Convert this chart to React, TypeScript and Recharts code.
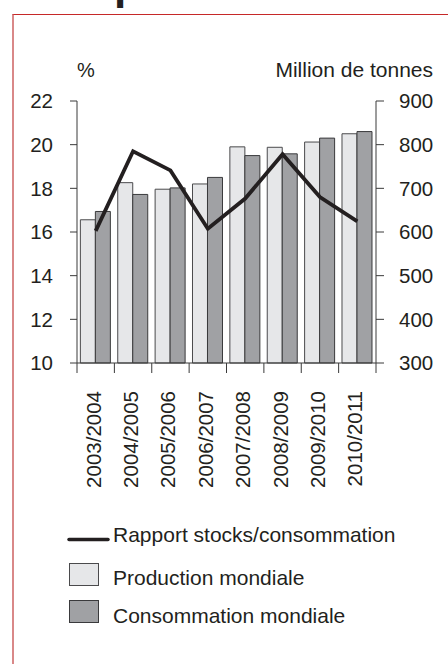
import React from 'react';
import { ComposedChart, Bar, Line, XAxis, YAxis } from 'recharts';

const years = ['2003/2004', '2004/2005', '2005/2006', '2006/2007', '2007/2008', '2008/2009', '2009/2010', '2010/2011'];
const production = [628, 713, 698, 710, 795, 794, 806, 825];
const consommation = [647, 686, 701, 725, 775, 779, 815, 830];
const rapport = [16.05, 19.7, 18.82, 16.15, 17.53, 19.56, 17.6, 16.49];
const leftTicks = [10, 12, 14, 16, 18, 20, 22];
const rightTicks = [300, 400, 500, 600, 700, 800, 900];

const data = years.map((year, i) => ({
  year,
  production: production[i],
  consommation: consommation[i],
  rapport: rapport[i],
}));

const FONT = '"Liberation Sans", Arial, sans-serif';
const INK = '#231f20';
const AXIS = '#3a3a3a';
const LIGHT = '#e6e7e9';
const DARK = '#a0a1a4';

const W = 448;
const H = 664;
const LEFT_W = 77;
const RIGHT_W = 72;
const BAND = (W - LEFT_W - RIGHT_W) / years.length;

const YearTick = (props: any) => {
  const { x, y, payload, index } = props;
  const half = payload && payload.offset ? payload.offset : BAND / 2;
  const tx = x + 5;
  const ty = y + 28;
  return (
    <g>
      <line x1={x - half} y1={y} x2={x - half} y2={y + 10} stroke={AXIS} strokeWidth={1} />
      {index === years.length - 1 && (
        <line x1={x + half} y1={y} x2={x + half} y2={y + 10} stroke={AXIS} strokeWidth={1} />
      )}
      <text
        x={tx}
        y={ty}
        transform={`rotate(-90 ${tx} ${ty})`}
        textAnchor="end"
        fontSize={20.5}
        fontFamily={FONT}
        fill={INK}
      >
        {payload.value}
      </text>
    </g>
  );
};

const tickStyle = { fill: INK, fontSize: 20.5, fontFamily: FONT };

export default function App() {
  return (
    <div style={{ position: 'absolute', left: 0, top: 0, width: W, height: H, overflow: 'hidden', background: '#fff' }}>
      <div
        style={{
          position: 'absolute',
          left: 12,
          top: 14,
          width: 700,
          height: 900,
          borderTop: '1.5px solid #c62828',
          borderLeft: '2px solid #d98888',
        }}
      />
      <div style={{ position: 'absolute', left: 0, top: 0 }}>
        <ComposedChart
          width={W}
          height={H}
          data={data}
          margin={{ top: 101, right: 0, bottom: 0, left: 0 }}
          barCategoryGap="9%"
          barGap={0}
        >
          <XAxis
            dataKey="year"
            height={H - 363}
            interval={0}
            tickLine={false}
            tickSize={0}
            tickMargin={0}
            axisLine={{ stroke: AXIS, strokeWidth: 1 }}
            tick={<YearTick />}
          />
          <YAxis
            yAxisId="left"
            orientation="left"
            width={LEFT_W}
            domain={[10, 22]}
            ticks={leftTicks}
            interval={0}
            tickSize={7}
            tickMargin={17}
            axisLine={{ stroke: AXIS, strokeWidth: 1 }}
            tickLine={{ stroke: AXIS, strokeWidth: 1 }}
            tick={tickStyle}
          />
          <YAxis
            yAxisId="right"
            orientation="right"
            width={RIGHT_W}
            domain={[300, 900]}
            ticks={rightTicks}
            interval={0}
            tickSize={8}
            tickMargin={15}
            axisLine={{ stroke: AXIS, strokeWidth: 1 }}
            tickLine={{ stroke: AXIS, strokeWidth: 1 }}
            tick={{ ...tickStyle, textAnchor: 'start' }}
          />
          <Bar
            yAxisId="right"
            dataKey="production"
            name="Production mondiale"
            fill={LIGHT}
            stroke="#4a4a4c"
            strokeWidth={1}
            isAnimationActive={false}
          />
          <Bar
            yAxisId="right"
            dataKey="consommation"
            name="Consommation mondiale"
            fill={DARK}
            stroke="#3a3a3c"
            strokeWidth={1}
            isAnimationActive={false}
          />
          <Line
            yAxisId="left"
            type="linear"
            dataKey="rapport"
            name="Rapport stocks/consommation"
            stroke={INK}
            strokeWidth={3.8}
            dot={false}
            activeDot={false}
            isAnimationActive={false}
          />
        </ComposedChart>
      </div>
      <svg
        width={W}
        height={H}
        style={{ position: 'absolute', left: 0, top: 0, pointerEvents: 'none' }}
        fontFamily={FONT}
      >
        <text x={114} y={-1} fontSize={44} fontWeight="bold" fill={INK}>p</text>
        <text x={86} y={77} fontSize={20} textAnchor="middle" fill={INK}>%</text>
        <text x={433} y={77} fontSize={21} textAnchor="end" fill={INK}>Million de tonnes</text>

        <line x1={69} y1={539.5} x2={108} y2={539.5} stroke={INK} strokeWidth={3.5} strokeLinecap="round" />
        <text x={113} y={542} fontSize={21} fill={INK}>Rapport stocks/consommation</text>

        <rect x={69.5} y={563.5} width={29} height={22} fill={LIGHT} stroke="#4a4a4c" strokeWidth={1} />
        <text x={113} y={585} fontSize={21} fill={INK}>Production mondiale</text>

        <rect x={69.5} y={600.5} width={29} height={22} fill={DARK} stroke="#3a3a3c" strokeWidth={1} />
        <text x={113} y={622.5} fontSize={21} fill={INK}>Consommation mondiale</text>
      </svg>
    </div>
  );
}
